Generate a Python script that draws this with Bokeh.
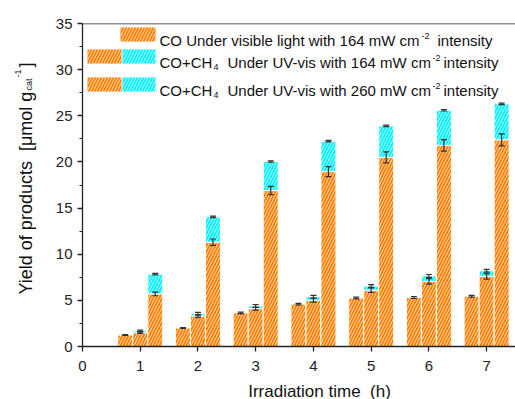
import math
from bokeh.plotting import figure
from bokeh.layouts import row, column
from bokeh.models import (Range1d, Whisker, TeeHead, Label, BoxAnnotation, Span,
                          ColumnDataSource, FixedTicker)
from bokeh.core.properties import value
from bokeh.transform import dodge
from bokeh.embed import file_html
from bokeh.resources import INLINE

# ---------------- data ----------------
hours = [1, 2, 3, 4, 5, 6, 7]
co_visible_164 = [1.25, 2.0, 3.65, 4.6, 5.25, 5.3, 5.45]
co_visible_164_err = [0.05, 0.05, 0.08, 0.08, 0.1, 0.1, 0.1]
co_uv_164 = [1.5, 3.3, 4.1, 5.0, 6.1, 7.05, 7.6]
co_uv_164_err = [0.08, 0.15, 0.15, 0.2, 0.25, 0.3, 0.3]
total_uv_164 = [1.7, 3.55, 4.4, 5.4, 6.55, 7.65, 8.2]
total_uv_164_err = [0.08, 0.15, 0.15, 0.15, 0.15, 0.15, 0.15]
co_uv_260 = [5.7, 11.3, 16.9, 18.95, 20.5, 21.8, 22.4]
co_uv_260_err = [0.2, 0.35, 0.45, 0.55, 0.6, 0.62, 0.65]
total_uv_260 = [7.85, 14.05, 20.05, 22.25, 23.9, 25.6, 26.3]
total_uv_260_err = [0.08, 0.08, 0.08, 0.08, 0.08, 0.08, 0.08]
x_ticks = [0, 1, 2, 3, 4, 5, 6, 7]
y_ticks = [0, 5, 10, 15, 20, 25, 30, 35]

ORANGE = "#FF8000"
CYAN = "#00F2FF"
FONT = "Liberation Sans"
AXC = "#222222"
TXT = "#111111"
ERRC = "#333333"

# geometry (window pixels)
W, H = 515, 399
LW = 40          # left strip holding the y-axis title
BH = 18          # bottom strip holding the x-axis title
FL, FR, FT, FB = 82, 515, 23, 346
XMIN, XMAX, YMIN, YMAX = 0, 7.5, 0, 35


def X(px):
    return XMIN + (px - FL) * (XMAX - XMIN) / (FR - FL)


def Y(py):
    return YMIN + (FB - py) * (YMAX - YMIN) / (FB - FT)


p = figure(width=W - LW, height=H - BH, x_range=Range1d(XMIN, XMAX), y_range=Range1d(YMIN, YMAX),
           output_backend="svg", toolbar_location=None,
           min_border_left=FL - LW, min_border_right=W - FR, min_border_top=FT,
           min_border_bottom=H - BH - FB)
p.outline_line_color = None
p.xgrid.visible = False
p.ygrid.visible = False
p.background_fill_color = "white"
p.border_fill_color = "white"

p.xaxis.ticker = FixedTicker(ticks=x_ticks)
p.yaxis.ticker = FixedTicker(ticks=y_ticks, minor_ticks=[t + 2.5 for t in y_ticks[:-1]])
for ax in (p.xaxis, p.yaxis):
    ax.axis_line_color = AXC
    ax.axis_line_width = 1.3
    ax.major_tick_line_color = AXC
    ax.major_tick_line_width = 1.3
    ax.major_tick_out = 5
    ax.major_tick_in = 0
    ax.minor_tick_line_color = AXC
    ax.minor_tick_line_width = 1.2
    ax.minor_tick_out = 3
    ax.minor_tick_in = 0
    ax.major_label_text_font = FONT
    ax.major_label_text_font_size = "15px"
    ax.major_label_text_color = "#222222"
p.xaxis.minor_tick_line_color = None
p.xaxis.major_label_standoff = 9
p.yaxis.major_label_standoff = 5

p.add_layout(Span(location=YMAX, dimension="width", line_color=AXC, line_width=1.3))

src = ColumnDataSource(dict(
    hours=hours,
    v1=co_visible_164,
    v1lo=[a - b for a, b in zip(co_visible_164, co_visible_164_err)],
    v1hi=[a + b for a, b in zip(co_visible_164, co_visible_164_err)],
    v2=co_uv_164,
    v2lo=[a - b for a, b in zip(co_uv_164, co_uv_164_err)],
    v2hi=[a + b for a, b in zip(co_uv_164, co_uv_164_err)],
    t2=total_uv_164,
    t2lo=[a - b for a, b in zip(total_uv_164, total_uv_164_err)],
    t2hi=[a + b for a, b in zip(total_uv_164, total_uv_164_err)],
    v3=co_uv_260,
    v3lo=[a - b for a, b in zip(co_uv_260, co_uv_260_err)],
    v3hi=[a + b for a, b in zip(co_uv_260, co_uv_260_err)],
    t3=total_uv_260,
    t3lo=[a - b for a, b in zip(total_uv_260, total_uv_260_err)],
    t3hi=[a + b for a, b in zip(total_uv_260, total_uv_260_err)],
))

BW = 0.26
OFF = 0.26
hatch = dict(hatch_pattern="/", hatch_color="white", hatch_scale=6, hatch_weight=1, hatch_alpha=0.7)
bar = dict(width=BW, line_color="white", line_width=1, **hatch)

p.vbar(x=dodge("hours", -OFF, range=p.x_range), bottom=0, top="v1", fill_color=ORANGE, source=src, **bar)
p.vbar(x=dodge("hours", 0, range=p.x_range), bottom=0, top="v2", fill_color=ORANGE, source=src, **bar)
p.vbar(x=dodge("hours", 0, range=p.x_range), bottom="v2", top="t2", fill_color=CYAN, source=src, **bar)
p.vbar(x=dodge("hours", OFF, range=p.x_range), bottom=0, top="v3", fill_color=ORANGE, source=src, **bar)
p.vbar(x=dodge("hours", OFF, range=p.x_range), bottom="v3", top="t3", fill_color=CYAN, source=src, **bar)

for off, lo, hi in [(-OFF, "v1lo", "v1hi"), (0, "v2lo", "v2hi"), (0, "t2lo", "t2hi"),
                    (OFF, "v3lo", "v3hi"), (OFF, "t3lo", "t3hi")]:
    wk = Whisker(base=dodge("hours", off, range=p.x_range), lower=lo, upper=hi, source=src,
                 dimension="height", line_color=ERRC, line_width=1.2, level="annotation",
                 upper_head=TeeHead(size=6, line_color=ERRC, line_width=1.2),
                 lower_head=TeeHead(size=6, line_color=ERRC, line_width=1.2))
    p.add_layout(wk)

# ---------------- legend (manual, to allow sub/superscripts) ----------------
def swatch(l, r, t, b, color):
    p.add_layout(BoxAnnotation(left=X(l), right=X(r), top=Y(t), bottom=Y(b),
                               fill_color=color, fill_alpha=1, line_color=None,
                               **hatch))


def txt(s, px, py, size="15px"):
    p.add_layout(Label(x=X(px), y=Y(py), text=s, text_font=FONT, text_font_size=size,
                       text_color=TXT, text_align="left", text_baseline="alphabetic"))


swatch(120, 155, 27, 41, ORANGE)
swatch(87, 121, 49, 63, ORANGE)
swatch(122, 155, 49, 63, CYAN)
swatch(87, 121, 77, 91, ORANGE)
swatch(122, 155, 77, 91, CYAN)

txt("CO Under visible light with 164 mW cm", 159, 39.5)
txt("-2", 421, 35, "9px")
txt("intensity", 437, 39.5)

for base, inten in [(62, "164"), (89.5, "260")]:
    txt("CO+CH", 159, base)
    txt("4", 213, base + 4.5, "9px")
    txt("Under UV-vis with %s mW cm" % inten, 227, base)
    txt("-2", 432, base - 4.5, "9px")
    txt("intensity", 443, base)


def strip(width, height, x0, y0):
    f = figure(width=width, height=height, x_range=Range1d(x0, x0 + width),
               y_range=Range1d(y0, y0 + height), x_axis_type=None, y_axis_type=None,
               output_backend="svg", toolbar_location=None,
               min_border_left=0, min_border_right=0, min_border_top=0, min_border_bottom=0)
    f.xgrid.visible = False
    f.ygrid.visible = False
    f.outline_line_color = None
    f.background_fill_color = "white"
    f.border_fill_color = "white"
    return f


# strips use window pixel coordinates (y measured upward from the window bottom)
lf = strip(LW, H, 0, 0)
bf = strip(W - LW, BH, LW, 0)


def stxt(f, s, px, py, size, angle=0.0, align="left", baseline="alphabetic"):
    f.text(x=[px], y=[H - py], text=[s], angle=angle, text_font=value(FONT),
           text_font_size=size, text_color=TXT, text_align=align,
           text_baseline=baseline)


A = math.pi / 2
stxt(lf, "Yield of products \u00a0[\u03bcmol g", 25, 294, "18px", A)
stxt(lf, "cat", 28, 90, "9px", A)
stxt(lf, "-1", 17, 77, "9px", A)
stxt(lf, "]", 25, 67, "18px", A)

stxt(bf, "Irradiation time \u00a0(h)", 300, H - BH, "17px", 0.0, "center", "top")

layout = row(lf, column(p, bf, spacing=0), spacing=0)
open("out.html", "w").write(file_html(layout, INLINE))
